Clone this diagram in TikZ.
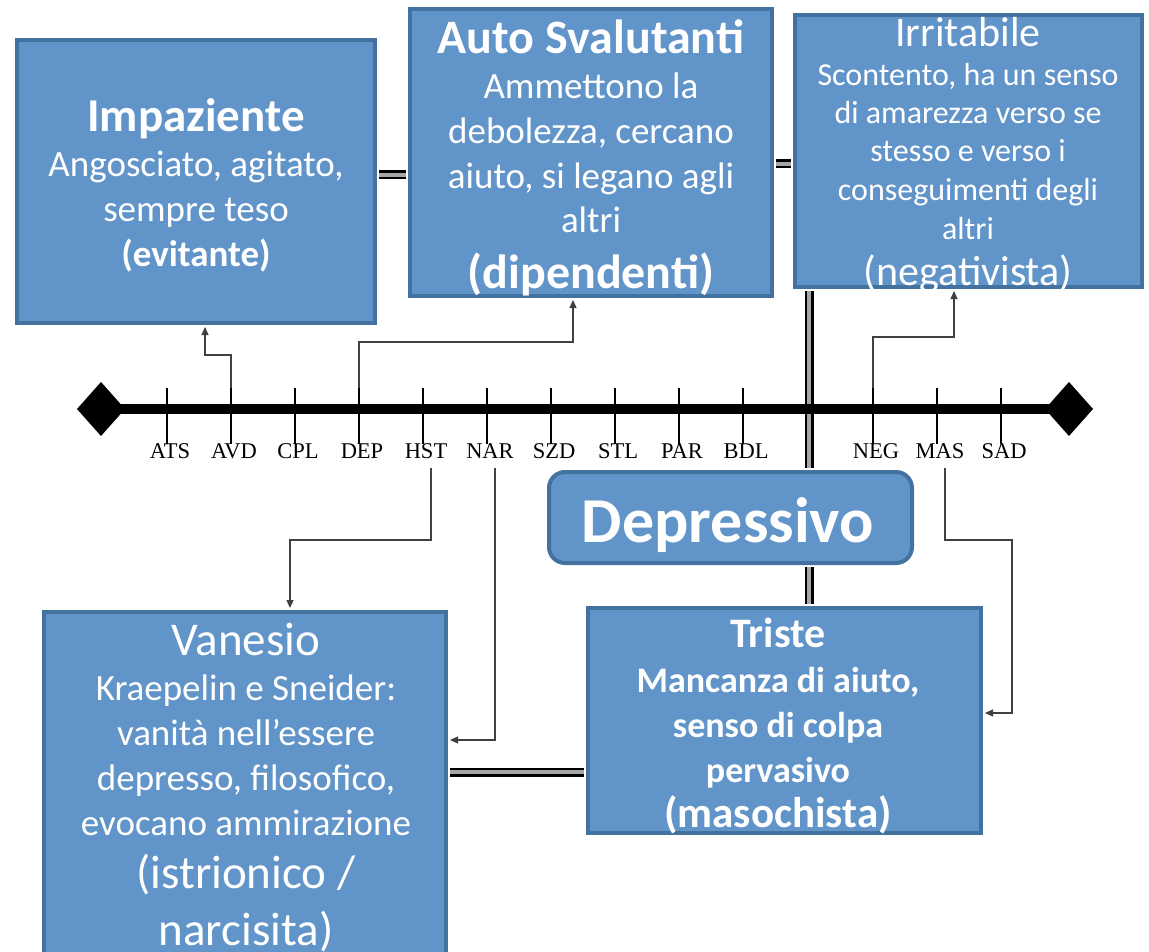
\documentclass[tikz,border=0pt]{standalone}
\usepackage{fontspec}
\setmainfont{Carlito}
\newfontfamily\axisfont{Liberation Serif}
\usetikzlibrary{arrows.meta}
\definecolor{boxfill}{RGB}{97,148,200}
\definecolor{boxline}{RGB}{68,114,160}

\begin{document}
\begin{tikzpicture}[x=1pt,y=-1pt,
 box/.style={draw=boxline,line width=4pt,fill=boxfill,inner sep=0pt},
 txt/.style={text=white,align=center,inner sep=0pt,anchor=base},
 dbl/.style={draw=black,line width=2.5pt,double=gray!70,double distance=4pt,shorten <=2pt,shorten >=2pt},
 conn/.style={black!75,line width=1.2pt,shorten >=2pt,-{Triangle[length=8pt,width=7pt]}},
 lbl/.style={font=\axisfont\fontsize{22.5}{22.5}\selectfont,anchor=base,inner sep=0pt}]
 \useasboundingbox (0,0) rectangle (1149,952);

 % boxes
 \node[box,minimum width=358pt,minimum height=283pt] (imp) at (196,181.5) {};
 \node[box,minimum width=362pt,minimum height=287pt] (sval) at (591,152.5) {};
 \node[box,minimum width=347pt,minimum height=272pt] (irr) at (968.5,151) {};
 \node[box,rounded corners=16pt,minimum width=363pt,minimum height=91pt] (dep) at (730.5,517.5) {};
 \node[box,minimum width=402pt,minimum height=396pt] (van) at (245,810) {};
 \node[box,minimum width=393pt,minimum height=225pt] (tri) at (784.5,720.5) {};

 % double links
 \coordinate (h1) at (0,175);
 \coordinate (h2) at (0,164);
 \coordinate (h3) at (0,772);
 \coordinate (v1) at (809,0);
 \draw[dbl] (imp.east |- h1) -- (sval.west |- h1);
 \draw[dbl] (sval.east |- h2) -- (irr.west |- h2);
 \draw[dbl] (van.east |- h3) -- (tri.west |- h3);
 \draw[dbl] (v1 |- irr.south) -- (v1 |- dep.north);
 \draw[dbl] (v1 |- dep.south) -- (v1 |- tri.north);

 % axis
 \coordinate (axL) at (101,409);
 \coordinate (axR) at (1069,409);
 \draw[line width=10pt] (axL) -- (axR);
 \fill (axL) +(-24,0) -- +(0,-27) -- +(24,0) -- +(0,27) -- cycle;
 \fill (axR) +(-24,0) -- +(0,-27) -- +(24,0) -- +(0,27) -- cycle;
 \foreach \name/\x in {ATS/167,AVD/231,CPL/295,DEP/359,HST/423,NAR/487,SZD/551,STL/615,PAR/679,BDL/743,NEG/873,MAS/937,SAD/1001}{
  \draw[line width=1.5pt] (\x,388) coordinate (t\name) -- (\x,444);
  \node[lbl] (l\name) at (\x+3,458) {\name};
 }

 % texts
 \node[txt,font=\fontsize{37}{45}\selectfont] (impT) at (196,267)
  {{\fontsize{47}{45}\selectfont\bfseries Impaziente}\\Angosciato, agitato,\\sempre teso\\\textbf{(evitante)}};
 \node[txt,font=\fontsize{37}{45}\selectfont] (svalT) at (591,288)
  {{\fontsize{48}{45}\selectfont\bfseries Auto Svalutanti}\\Ammettono la\\debolezza, cercano\\aiuto, si legano agli\\altri\\[10pt]{\fontsize{48}{45}\selectfont\bfseries (dipendenti)}};
 \node[txt,font=\fontsize{32}{38.5}\selectfont] (irrT) at (968,286)
  {{\fontsize{42}{38.5}\selectfont Irritabile}\\Scontento, ha un senso\\di amarezza verso se\\stesso e verso i\\conseguimenti degli\\altri\\[8.5pt]{\fontsize{42}{38.5}\selectfont (negativista)}};
 \node[txt,font=\bfseries\fontsize{64}{64}\selectfont] (depT) at (728,542) {Depressivo};
 \node[txt,font=\fontsize{37}{45}\selectfont] (vanT) at (246,945)
  {{\fontsize{47}{45}\selectfont Vanesio}\\Kraepelin e Sneider:\\vanità nell’essere\\depresso, filosofico,\\evocano ammirazione\\[8pt]{\fontsize{47}{45}\selectfont (istrionico /}\\[12pt]{\fontsize{47}{45}\selectfont narcisita)}};
 \node[txt,font=\bfseries\fontsize{36}{45}\selectfont] (triT) at (778,827)
  {{\fontsize{42}{45}\selectfont Triste}\\Mancanza di aiuto,\\senso di colpa\\pervasivo\\{\fontsize{43}{45}\selectfont (masochista)}};

 % links from the axis
 \coordinate (c1) at (205,355);
 \coordinate (c2) at (573,342);
 \coordinate (c3) at (954,337);
 \coordinate (c4) at (290,540);
 \coordinate (c5) at (0,740);
 \coordinate (c6) at (1012,540);
 \coordinate (c7) at (0,713);
 \draw[conn] (tAVD) |- (c1) -- (c1 |- imp.south);
 \draw[conn] (tDEP) |- (c2) -- (c2 |- sval.south);
 \draw[conn] (tNEG) |- (c3) -- (c3 |- irr.south);
 \draw[conn] ([xshift=5pt,yshift=-10pt]lHST.south) |- (c4) -- (c4 |- van.north);
 \draw[conn] ([xshift=5pt,yshift=-10pt]lNAR.south) |- (van.east |- c5);
 \draw[conn] ([xshift=5pt,yshift=-10pt]lMAS.south) |- (c6) -- (c6 |- c7) -- (tri.east |- c7);
\end{tikzpicture}
\end{document}
